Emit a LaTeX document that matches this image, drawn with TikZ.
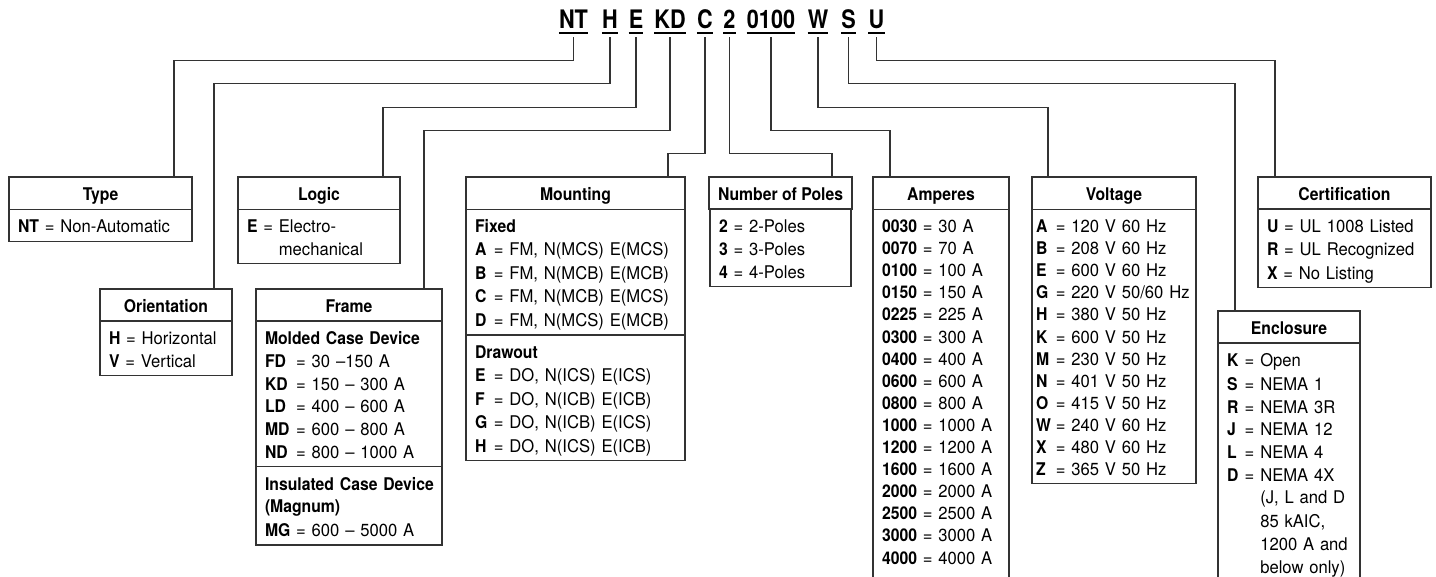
\documentclass[tikz,border=0pt]{standalone}
\usepackage{fontspec}
\setmainfont{TeX Gyre Heros}[UprightFeatures={FakeStretch=0.95},BoldFeatures={FakeStretch=0.9}]
\newfontfamily\codefont{TeX Gyre Heros}[FakeStretch=0.85]
\usetikzlibrary{positioning}

% one row of a box: strut plus "key = value"
\newcommand{\ks}{\rule[-3.7pt]{0pt}{22.7pt}}
\newcommand{\kv}[3][\width]{\mbox{\makebox[#1][l]{\textbf{#2}} = #3}\ks}
\newcommand{\kb}[1]{\mbox{\textbf{#1}}\ks}
% invisible tail for the boxes that run off the page
\newcommand{\openend}{\rule[-30pt]{0pt}{1pt}}

\begin{document}
\begin{tikzpicture}[
        x=1pt, y=-1pt,
        every node/.style={font=\fontsize{17.5}{22.7}\selectfont},
        codeltr/.style={font=\codefont\fontsize{25.5}{26}\selectfont\bfseries, inner sep=0pt, text depth=4pt, anchor=base},
        uline/.style={line width=2pt},
        wire/.style={draw=black!80, line width=1.2pt, shorten <=4pt},
        boxhead/.style={draw=black!80, line width=1.2pt, outer sep=0pt, inner xsep=9pt, inner ysep=4.65pt, minimum width=#1+18pt, font=\fontsize{17.5}{22.7}\selectfont\bfseries},
        boxbody/.style={draw=black!80, line width=1.2pt, outer sep=0pt, inner xsep=9pt, inner ysep=4.65pt, text width=#1, align=left, execute at begin node={\parindent=0pt}},
        tight/.style={font=\fontsize{17.5}{22.1}\selectfont, execute at begin node={\parindent=0pt\def\ks{\rule[-3.3pt]{0pt}{22.1pt}}}}
    ]
    \useasboundingbox (0,0) rectangle (1436,577);

    % order code
    \node[codeltr] (cNT) at (573.5,29) {NT};
    \node[codeltr] (cH) at (610,29) {H};
    \node[codeltr] (cE) at (636,29) {E};
    \node[codeltr] (cKD) at (670,29) {KD};
    \node[codeltr] (cC) at (705,29) {C};
    \node[codeltr] (cP) at (729.5,29) {2};
    \node[codeltr] (cA) at (771,29) {0100};
    \node[codeltr] (cW) at (818,29) {W};
    \node[codeltr] (cS) at (848.5,29) {S};
    \node[codeltr] (cU) at (876.5,29) {U};
    \foreach \n in {cNT,cH,cE,cKD,cC,cP,cA,cW,cS,cU}
        \draw[uline] (\n.south west) -- (\n.south east);

    % boxes
    \node[boxhead=165pt, anchor=north west] (typeT) at (9,177) {Type\ks};
    \node[boxbody=165pt, below=0pt of typeT] (typeB) {\kv{NT}{Non-Automatic}};

    \node[boxhead=144pt, anchor=north west] (logicT) at (238,177) {Logic\ks};
    \node[boxbody=144pt, below=0pt of logicT] (logicB) {\kv{E}{Electro-}\\
        \phantom{\textbf{E} = }mechanical\ks};

    \node[boxhead=114pt, anchor=north west] (orientT) at (100,289) {Orientation\ks};
    \node[boxbody=114pt, below=0pt of orientT] (orientB) {\kv{H}{Horizontal}\\
        \kv{V}{Vertical}};

    \node[boxhead=168pt, anchor=north west] (frameT) at (256,289) {Frame\ks};
    \node[boxbody=168pt, below=0pt of frameT] (frameB) {\kb{Molded Case Device}\\
        \kv[1.45em]{FD}{30 –150 A}\\
        \kv[1.45em]{KD}{150 – 300 A}\\
        \kv[1.45em]{LD}{400 – 600 A}\\
        \kv[1.45em]{MD}{600 – 800 A}\\
        \kv[1.45em]{ND}{800 – 1000 A}};
    \node[boxbody=168pt, below=0pt of frameB] (frameC) {\kb{Insulated Case Device}\\
        \kb{(Magnum)}\\
        \kv[1.45em]{MG}{600 – 5000 A}};

    \node[boxhead=201pt, anchor=north west] (mountT) at (466,177) {Mounting\ks};
    \node[boxbody=201pt, below=0pt of mountT] (mountB) {\kb{Fixed}\\
        \kv[0.75em]{A}{FM, N(MCS) E(MCS)}\\
        \kv[0.75em]{B}{FM, N(MCB) E(MCB)}\\
        \kv[0.75em]{C}{FM, N(MCB) E(MCS)}\\
        \kv[0.75em]{D}{FM, N(MCS) E(MCB)}};
    \node[boxbody=201pt, below=0pt of mountB] (mountC) {\kb{Drawout}\\
        \kv[0.75em]{E}{DO, N(ICS) E(ICS)}\\
        \kv[0.75em]{F}{DO, N(ICB) E(ICB)}\\
        \kv[0.75em]{G}{DO, N(ICB) E(ICS)}\\
        \kv[0.75em]{H}{DO, N(ICS) E(ICB)}};

    \node[boxhead=123pt, anchor=north west] (polesT) at (709,177) {Number of Poles\ks};
    \node[boxbody=123pt, below=0pt of polesT] (polesB) {\kv{2}{2-Poles}\\
        \kv{3}{3-Poles}\\
        \kv{4}{4-Poles}};

    \node[boxhead=118pt, anchor=north west] (ampT) at (873,177) {Amperes\ks};
    \node[boxbody=118pt, tight, below=0pt of ampT] (ampB) {\kv{0030}{30 A}\\
        \kv{0070}{70 A}\\
        \kv{0100}{100 A}\\
        \kv{0150}{150 A}\\
        \kv{0225}{225 A}\\
        \kv{0300}{300 A}\\
        \kv{0400}{400 A}\\
        \kv{0600}{600 A}\\
        \kv{0800}{800 A}\\
        \kv{1000}{1000 A}\\
        \kv{1200}{1200 A}\\
        \kv{1600}{1600 A}\\
        \kv{2000}{2000 A}\\
        \kv{2500}{2500 A}\\
        \kv{3000}{3000 A}\\
        \kv{4000}{4000 A}\openend};

    \node[boxhead=146pt, anchor=north west] (voltT) at (1032,177) {Voltage\ks};
    \node[boxbody=156pt, tight, inner xsep=4pt, below=0pt of voltT] (voltB) {\kv[0.8em]{A}{120 V 60 Hz}\\
        \kv[0.8em]{B}{208 V 60 Hz}\\
        \kv[0.8em]{E}{600 V 60 Hz}\\
        \kv[0.8em]{G}{220 V 50/60 Hz}\\
        \kv[0.8em]{H}{380 V 50 Hz}\\
        \kv[0.8em]{K}{600 V 50 Hz}\\
        \kv[0.8em]{M}{230 V 50 Hz}\\
        \kv[0.8em]{N}{401 V 50 Hz}\\
        \kv[0.8em]{O}{415 V 50 Hz}\\
        \kv[0.8em]{W}{240 V 60 Hz}\\
        \kv[0.8em]{X}{480 V 60 Hz}\\
        \kv[0.8em]{Z}{365 V 50 Hz}};

    \node[boxhead=124pt, anchor=north west] (enclT) at (1218,311) {Enclosure\ks};
    \node[boxbody=124pt, below=0pt of enclT] (enclB) {\kv[0.68em]{K}{Open}\\
        \kv[0.68em]{S}{NEMA 1}\\
        \kv[0.68em]{R}{NEMA 3R}\\
        \kv[0.68em]{J}{NEMA 12}\\
        \kv[0.68em]{L}{NEMA 4}\\
        \kv[0.68em]{D}{NEMA 4X}\\
        \phantom{\makebox[0.68em]{} = }(J, L and D\ks\\
        \phantom{\makebox[0.68em]{} = }85 kAIC,\ks\\
        \phantom{\makebox[0.68em]{} = }1200 A and\ks\\
        \phantom{\makebox[0.68em]{} = }below only)\ks\openend};

    \node[boxhead=155pt, anchor=north west] (certT) at (1258,177) {Certification\ks};
    \node[boxbody=155pt, below=0pt of certT] (certB) {\kv{U}{UL 1008 Listed}\\
        \kv{R}{UL Recognized}\\
        \kv{X}{No Listing}};

    % connectors
    \draw[wire] (cNT.south) -- ++(0,27) -| ([xshift=165pt]typeT.north west);
    \draw[wire] (cH.south) -- ++(0,50) -| ([xshift=114pt]orientT.north west);
    \draw[wire] (cE.south) -- ++(0,74) -| ([xshift=145pt]logicT.north west);
    \draw[wire] (cKD.south) -- ++(0,97) -| ([xshift=168pt]frameT.north west);
    \draw[wire] (cC.south) -- ++(0,120) -| ([xshift=202pt]mountT.north west);
    \draw[wire] (cP.south) -- ++(0,120) -| ([xshift=123pt]polesT.north west);
    \draw[wire] (cA.south) -- ++(0,97) -| ([xshift=17pt]ampT.north west);
    \draw[wire] (cW.south) -- ++(0,74) -| ([xshift=16pt]voltT.north west);
    \draw[wire] (cS.south) -- ++(0,50) -| ([xshift=17pt]enclT.north west);
    \draw[wire] (cU.south) -- ++(0,27) -| ([xshift=17pt]certT.north west);
\end{tikzpicture}
\end{document}
